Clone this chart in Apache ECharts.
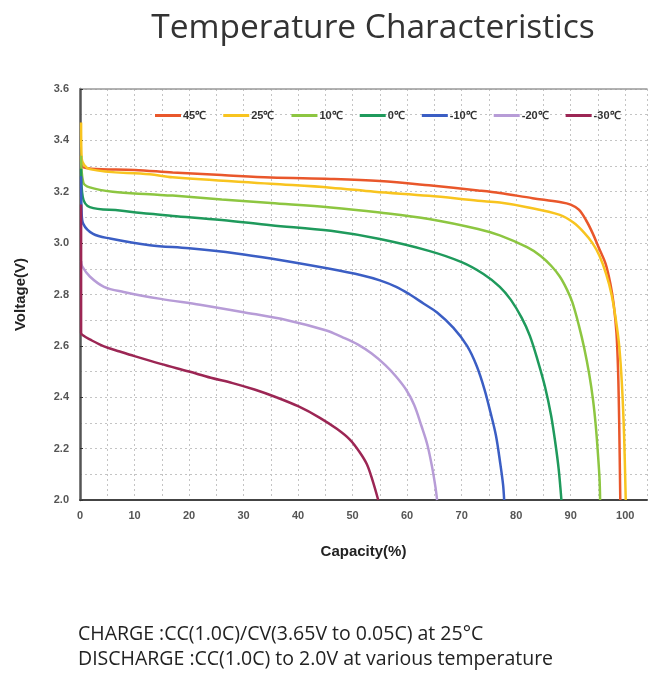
<!DOCTYPE html>
<html lang="en">
<head>
    <meta charset="UTF-8">
    <title>Temperature Characteristics</title>
    <script type="text/javascript" src="https://cdn.jsdelivr.net/npm/echarts@6/dist/echarts.min.js"></script>
    <style>
        html, body { margin: 0; padding: 0; background: #fff; }
    </style>
</head>
<body>
    <div id="chart" style="width:650px;height:675px;"></div>
<script>
// discharge curves: [capacity %, voltage V]
var names = ['45℃', '25℃', '10℃', '0℃', '-10℃', '-20℃', '-30℃'];
var colors = ['#E9572B', '#F8C41F', '#8DC641', '#1F9A5C', '#3B5EC4', '#B79CD7', '#9C2654'];

var t45 = [[0.2,3.34],[0.3,3.30],[2,3.29],[10,3.285],[17,3.275],[26,3.265],[35,3.255],[46,3.25],[55,3.242],
    [64,3.225],[73,3.205],[77,3.195],[83,3.175],[88,3.16],[90,3.15],[91.5,3.13],[92.8,3.09],[94,3.04],
    [95.2,2.98],[96.4,2.92],[97.3,2.84],[97.9,2.76],[98.4,2.65],[98.7,2.5],[98.9,2.3],[99.1,2.0]];
var t25 = [[0.2,3.47],[0.3,3.33],[1.8,3.288],[12.8,3.268],[17,3.256],[35,3.231],[46,3.216],[54,3.2],
    [64,3.184],[73,3.165],[77,3.158],[82,3.14],[88,3.11],[90.5,3.08],[92.5,3.04],[94,3.0],[95.3,2.95],
    [96.5,2.88],[97.5,2.8],[98.3,2.7],[98.9,2.6],[99.4,2.45],[99.8,2.25],[100.1,2.0]];
var t10 = [[0.2,3.34],[0.6,3.236],[1.8,3.217],[6,3.2],[12.8,3.19],[17,3.185],[26,3.17],[35,3.156],
    [46,3.139],[55,3.119],[64,3.094],[73,3.055],[77,3.03],[82,2.984],[84.5,2.95],[86.5,2.91],[88,2.87],
    [89.3,2.82],[90.3,2.77],[91.5,2.68],[92.5,2.59],[93.4,2.49],[94.1,2.39],[94.6,2.29],[95,2.18],
    [95.3,2.08],[95.4,2.0]];
var t0 = [[0.2,3.29],[0.5,3.18],[1.8,3.14],[7.3,3.127],[12.8,3.114],[17,3.106],[26,3.09],[35,3.07],
    [46,3.048],[55,3.016],[64,2.97],[70,2.926],[74,2.88],[77,2.83],[79,2.78],[81,2.71],[82.5,2.64],
    [84,2.54],[85.3,2.44],[86.4,2.33],[87.2,2.22],[87.8,2.12],[88.3,2.0]];
var tm10 = [[0.2,3.26],[0.3,3.12],[0.6,3.075],[2.4,3.036],[5.5,3.018],[12.8,2.992],[20,2.98],[28.7,2.96],
    [35,2.94],[45.8,2.9],[51.8,2.874],[55,2.855],[58,2.83],[60.5,2.80],[63,2.765],[65.5,2.73],
    [68.5,2.67],[71,2.60],[72.8,2.52],[74.2,2.43],[75.3,2.34],[76.3,2.25],[77.1,2.14],[77.6,2.06],[77.8,2.0]];
var tm20 = [[0.2,2.93],[0.4,2.91],[1.8,2.87],[4.4,2.83],[8,2.81],[14.8,2.783],[22,2.76],[30,2.731],
    [38,2.70],[45.2,2.66],[48,2.635],[51,2.605],[53.5,2.57],[56,2.525],[58,2.48],[59.8,2.43],
    [61.3,2.37],[62.6,2.29],[63.7,2.216],[64.6,2.126],[65.2,2.05],[65.5,2.0]];
var tm30 = [[0.2,3.15],[0.2,2.65],[0.6,2.64],[1.8,2.625],[4.4,2.598],[7.3,2.578],[10,2.56],[14.8,2.53],
    [20,2.5],[24,2.476],[28,2.455],[32,2.43],[36,2.40],[40,2.365],[44,2.32],[47.1,2.277],[49.5,2.235],
    [51.3,2.186],[52.6,2.14],[53.6,2.08],[54.7,2.0]];

var curves = [t45, t25, t10, t0, tm10, tm20, tm30];

var myChart = echarts.init(document.getElementById('chart'));

var dotted = { color: '#c4c4c4', type: [2, 3], width: 1 };

var series = [];
for (var i = 0; i < names.length; i++) {
    series.push({
        name: names[i],
        type: 'line',
        data: curves[i],
        showSymbol: false,
        smooth: 0.35,
        color: colors[i],
        lineStyle: { width: 2.5 }
    });
}

var option = {
    backgroundColor: '#fff',
    animation: false,
    title: {
        text: 'Temperature Characteristics',
        left: 368,
        textAlign: 'center',
        top: 6,
        textStyle: { fontFamily: 'Open Sans', fontSize: 33.5, fontWeight: 'normal', color: '#333' }
    },
    legend: {
        data: names,
        left: 150,
        top: 105,
        icon: 'rect',
        itemWidth: 26,
        itemHeight: 3,
        itemGap: 17,
        textStyle: { fontFamily: 'Liberation Sans', fontSize: 11, fontWeight: 'bold', color: '#333', padding: [0, 0, 0, -3] }
    },
    grid: { left: 80, right: 2, top: 89, bottom: 175 },
    xAxis: [{
        type: 'value',
        min: 0,
        max: 104,
        interval: 5,
        name: 'Capacity(%)',
        nameLocation: 'middle',
        nameGap: 44,
        nameTextStyle: { fontFamily: 'Liberation Sans', fontSize: 15, fontWeight: 'bold', color: '#222' },
        axisLine: { lineStyle: { color: '#444', width: 2 } },
        axisTick: { show: false },
        axisLabel: {
            color: '#555',
            fontFamily: 'Liberation Sans',
            fontSize: 11,
            fontWeight: 'bold',
            margin: 10,
            formatter: function (v) { return (v % 10 === 0 && v <= 100) ? String(v) : ''; }
        },
        splitLine: { lineStyle: dotted }
    }, {
        type: 'value',
        position: 'top',
        min: 0,
        max: 104,
        axisLine: { show: true, lineStyle: { color: '#999', width: 1.5 } },
        axisTick: { show: false },
        axisLabel: { show: false },
        splitLine: { show: false }
    }],
    yAxis: {
        type: 'value',
        min: 2.0,
        max: 3.6,
        interval: 0.2,
        name: 'Voltage(V)',
        nameLocation: 'middle',
        nameRotate: 90,
        nameGap: 52,
        nameTextStyle: { fontFamily: 'Liberation Sans', fontSize: 15, fontWeight: 'bold', color: '#222' },
        axisLine: { show: true, lineStyle: { color: '#555', width: 2.5 } },
        axisTick: { show: true, inside: true, length: 3, lineStyle: { color: '#333' } },
        axisLabel: {
            color: '#555',
            fontFamily: 'Liberation Sans',
            fontSize: 11,
            fontWeight: 'bold',
            margin: 11,
            formatter: function (v) { return v.toFixed(1); }
        },
        splitLine: { lineStyle: dotted },
        minorTick: { show: false, splitNumber: 2 },
        minorSplitLine: { show: true, lineStyle: dotted }
    },
    graphic: [{
        type: 'text',
        left: 78,
        top: 624,
        style: { text: 'CHARGE :CC(1.0C)/CV(3.65V to 0.05C) at 25°C', fill: '#222', font: '19.5px "Open Sans"' }
    }, {
        type: 'text',
        left: 78,
        top: 649,
        style: { text: 'DISCHARGE :CC(1.0C) to 2.0V at various temperature', fill: '#222', font: '19.5px "Open Sans"' }
    }],
    series: series
};

myChart.setOption(option);
</script>
</body>
</html>
